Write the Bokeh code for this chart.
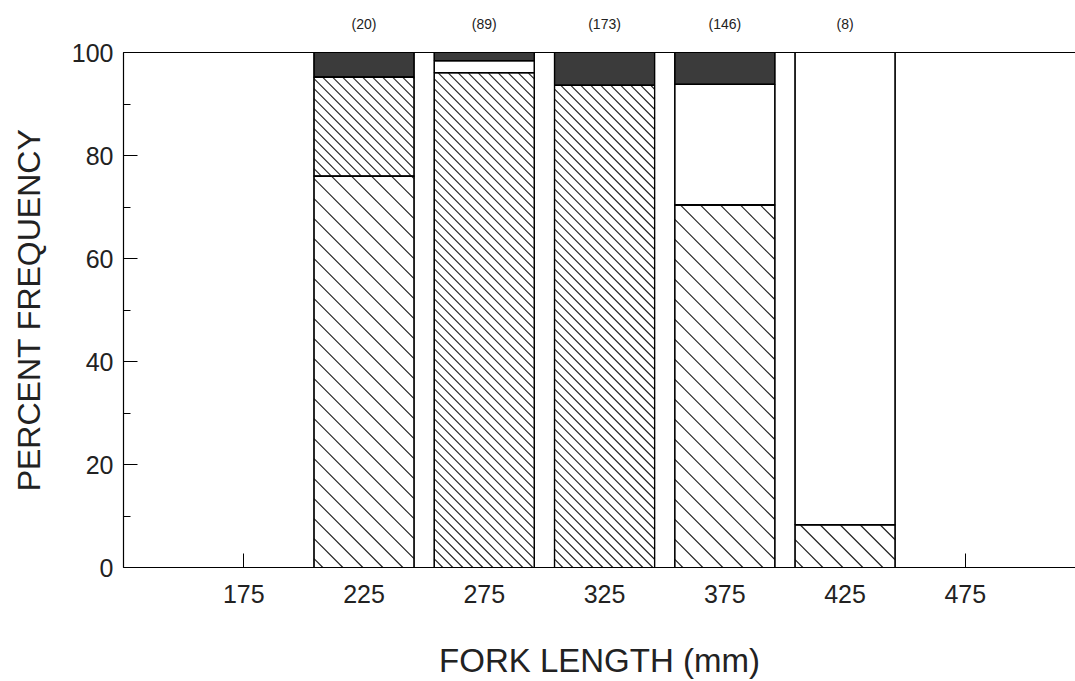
from bokeh.plotting import figure
from bokeh.models import (ColumnDataSource, LinearAxis, FixedTicker, SingleIntervalTicker,
                          Range1d)
from bokeh.embed import file_html
from bokeh.resources import INLINE

# ---- data ----
fork_length = [225, 275, 325, 375, 425]
sample_n = ["(20)", "(89)", "(173)", "(146)", "(8)"]
cat_wide_hatch = [76.0, 0.0, 0.0, 70.4, 8.3]
cat_dense_hatch = [19.2, 96.1, 93.6, 0.0, 0.0]
cat_white = [0.0, 2.3, 0.0, 23.4, 91.7]
cat_dark = [4.8, 1.6, 6.4, 6.2, 0.0]
x_ticks = [175, 225, 275, 325, 375, 425, 475]

FONT = "Liberation Sans"
TXT = "#222222"
BAR_W = 41.6

# layout
W, H = 1075, 681
B_LEFT, B_RIGHT, B_TOP, B_BOTTOM = 123, 0, 52, 114
X0, X1 = 125, 520.8
Y0, Y1 = 0, 100
SX = (W - B_LEFT - B_RIGHT) / (X1 - X0)   # px per x unit
SY = (H - B_TOP - B_BOTTOM) / (Y1 - Y0)   # px per y unit

src = ColumnDataSource(dict(
    x=fork_length,
    a=cat_wide_hatch, b=cat_dense_hatch, c=cat_white, d=cat_dark,
))

p = figure(width=W, height=H, output_backend="svg", toolbar_location=None,
           x_range=Range1d(X0, X1), y_range=Range1d(Y0, Y1),
           min_border_left=B_LEFT, min_border_right=B_RIGHT, min_border_top=B_TOP,
           min_border_bottom=B_BOTTOM, x_axis_type=None, y_axis_type=None)
p.outline_line_color = None
p.xgrid.visible = False
p.ygrid.visible = False
p.background_fill_color = "white"

renderers = p.vbar_stack(["a", "b", "c", "d"], x="x", width=BAR_W, source=src,
                         fill_color=["white", "white", "white", "#3b3b3b"],
                         line_color="black", line_width=1.2)


def hatch_segments(xc, bottoms, heights, spacing_px):
    """45-degree '\\' hatch lines (screen space) clipped to each bar piece."""
    xs0, ys0, xs1, ys1 = [], [], [], []
    for x, b, h in zip(xc, bottoms, heights):
        if h <= 0:
            continue
        L, R = (x - BAR_W / 2) * SX, (x + BAR_W / 2) * SX
        Bt, Tp = b * SY, (b + h) * SY
        kmin, kmax = L + Bt, R + Tp
        m = int(kmin // spacing_px) + 1
        while m * spacing_px < kmax:
            k = m * spacing_px
            xa = max(L, k - Tp)
            xb = min(R, k - Bt)
            if xb > xa:
                xs0.append(xa / SX); ys0.append((k - xa) / SY)
                xs1.append(xb / SX); ys1.append((k - xb) / SY)
            m += 1
    return dict(x0=xs0, y0=ys0, x1=xs1, y1=ys1)


zeros = [0.0] * len(fork_length)
wide = hatch_segments(fork_length, zeros, cat_wide_hatch, 20)
dense = hatch_segments(fork_length, cat_wide_hatch, cat_dense_hatch, 10)
hr1 = p.segment(x0="x0", y0="y0", x1="x1", y1="y1", source=ColumnDataSource(wide),
                line_color="#1e1e1e", line_width=1.1)
hr2 = p.segment(x0="x0", y0="y0", x1="x1", y1="y1", source=ColumnDataSource(dense),
                line_color="#1e1e1e", line_width=1.1)

for r in list(renderers) + [hr1, hr2]:
    r.level = "overlay"
# redraw outlines on top of hatch lines
outline = p.vbar_stack(["a", "b", "c", "d"], x="x", width=BAR_W, source=src,
                       fill_color=None, line_color="black", line_width=1.2)
for r in outline:
    r.level = "overlay"

# axes
xaxis = LinearAxis(ticker=FixedTicker(ticks=x_ticks))
xaxis.major_tick_in = 14
xaxis.major_tick_out = 0
xaxis.minor_tick_line_color = None
xaxis.major_label_standoff = 17
xaxis.major_label_text_font = FONT
xaxis.major_label_text_font_size = "25px"
xaxis.major_label_text_color = TXT
xaxis.axis_label = "FORK LENGTH (mm)"
xaxis.axis_label_text_font = FONT
xaxis.axis_label_text_font_size = "33px"
xaxis.axis_label_text_font_style = "normal"
xaxis.axis_label_text_color = TXT
xaxis.axis_label_standoff = 36
xaxis.axis_line_width = 1.2
p.add_layout(xaxis, "below")

yaxis = LinearAxis(ticker=SingleIntervalTicker(interval=20, num_minor_ticks=2))
yaxis.major_tick_in = 14
yaxis.major_tick_out = 0
yaxis.minor_tick_in = 7
yaxis.minor_tick_out = 0
yaxis.major_label_standoff = 10
yaxis.major_label_text_font = FONT
yaxis.major_label_text_font_size = "25px"
yaxis.major_label_text_color = TXT
yaxis.axis_label = "PERCENT FREQUENCY"
yaxis.axis_label_text_font = FONT
yaxis.axis_label_text_font_size = "32px"
yaxis.axis_label_text_font_style = "normal"
yaxis.axis_label_text_color = TXT
yaxis.axis_label_standoff = 22
yaxis.axis_line_width = 1.2
p.add_layout(yaxis, "left")

# top border of the plotting box, carrying the sample sizes above each bar
top = LinearAxis(ticker=FixedTicker(ticks=fork_length),
                 major_label_overrides={x: n for x, n in zip(fork_length, sample_n)})
top.major_tick_line_color = None
top.minor_tick_line_color = None
top.major_label_standoff = 15
top.major_label_text_font = FONT
top.major_label_text_font_size = "14px"
top.major_label_text_color = TXT
top.axis_line_width = 1.2
p.add_layout(top, "above")

open("out.html", "w").write(file_html(p, INLINE))
